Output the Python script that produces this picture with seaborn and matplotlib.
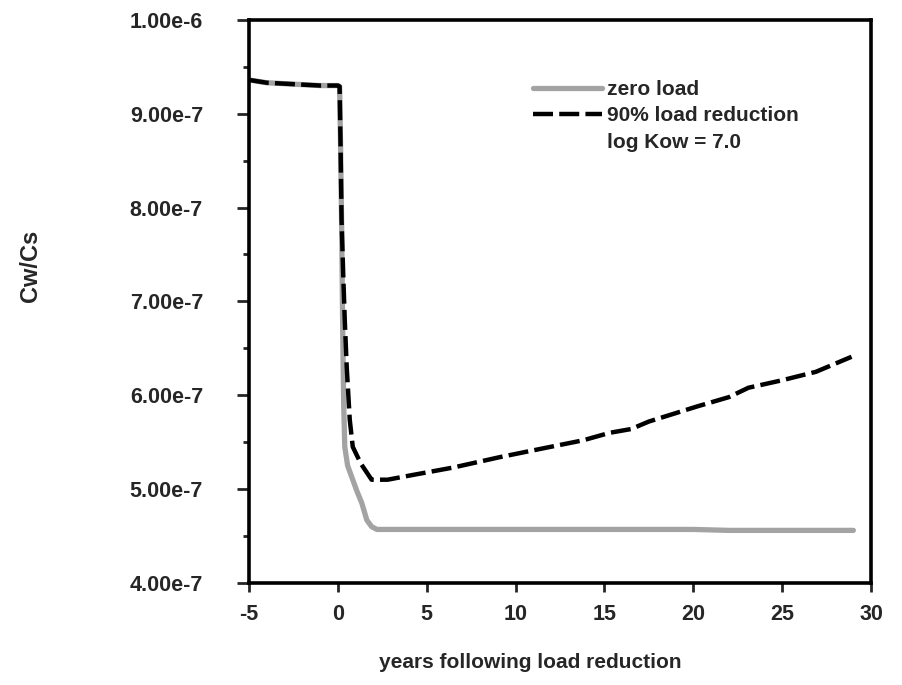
import matplotlib
matplotlib.use('Agg')
import matplotlib.pyplot as plt
import seaborn as sns
from matplotlib.lines import Line2D
from matplotlib.ticker import MultipleLocator, FuncFormatter

# data (Cw/Cs in units of 1e-7)
years_zero = [-5, -4, -3, -2, -1, 0, 0.1, 0.15, 0.21, 0.28, 0.33, 0.39, 0.55, 0.8, 1.07,
              1.35, 1.63, 1.9, 2.2, 3, 5, 8, 10, 12, 15, 18, 20, 22, 25, 27, 29]
cw_zero = [9.36, 9.33, 9.32, 9.31, 9.30, 9.30, 9.29, 8.7, 7.87, 6.6, 5.9, 5.45, 5.25, 5.12, 4.98,
           4.85, 4.67, 4.60, 4.57, 4.57, 4.57, 4.57, 4.57, 4.57, 4.57, 4.57, 4.57, 4.56, 4.56, 4.56, 4.56]

years_90 = [-5, -4, -3, -2, -1, 0, 0.1, 0.15, 0.21, 0.30, 0.39, 0.5, 0.67, 0.84, 1.3, 1.9,
            2.8, 4.2, 6.5, 9.1, 11.7, 13.8, 15.3, 16.5, 17.5, 20.2, 22.0, 23.1, 25.0, 26.9, 28.9]
cw_90 = [9.36, 9.33, 9.32, 9.31, 9.30, 9.30, 9.29, 8.7, 7.87, 7.3, 6.80, 6.3, 5.74, 5.45, 5.27, 5.10,
         5.10, 5.15, 5.23, 5.34, 5.44, 5.52, 5.60, 5.64, 5.72, 5.88, 5.98, 6.08, 6.16, 6.25, 6.41]

labels = ['zero load', '90% load reduction', 'log Kow = 7.0']

sns.set_style('ticks')
plt.rcParams['font.family'] = ['Liberation Sans', 'DejaVu Sans']
plt.rcParams['font.weight'] = 'bold'
plt.rcParams['axes.unicode_minus'] = False

fig = plt.figure(figsize=(9.03, 6.85), dpi=100)
ax = fig.add_axes([0.2757, 0.149, 0.689, 0.822])

sns.lineplot(x=years_zero, y=[v * 1e-7 for v in cw_zero], ax=ax, color='#a3a3a3',
             linewidth=3.8, estimator=None, sort=False)
sns.lineplot(x=years_90, y=[v * 1e-7 for v in cw_90], ax=ax, color='black',
             linewidth=3.2, linestyle=(0, (4.5, 1.4)), estimator=None, sort=False)

ax.set_xlim(-5, 30)
ax.set_ylim(4e-7, 1e-6)
ax.xaxis.set_major_locator(MultipleLocator(5))
ax.yaxis.set_major_locator(MultipleLocator(1e-7))
ax.yaxis.set_minor_locator(MultipleLocator(0.5e-7))
ax.yaxis.set_major_formatter(FuncFormatter(lambda v, p: f'{v:.2e}'.replace('e-0', 'e-')))

for s in ax.spines.values():
    s.set_linewidth(2.6)
    s.set_color('black')
ax.tick_params(axis='y', which='major', direction='out', length=9, width=2, pad=24, labelsize=15.5)
ax.tick_params(axis='y', which='minor', direction='out', length=4, width=2)
ax.tick_params(axis='x', which='major', direction='out', length=6.5, width=2, pad=9, labelsize=15.5)

ax.set_xlabel('years following load reduction', fontsize=15, fontweight='bold')
ax.set_ylabel('Cw/Cs', fontsize=17, fontweight='bold')
ax.xaxis.set_label_coords(0.452, -0.124)
ax.yaxis.set_label_coords(-0.333, 0.563)

handles = [ax.lines[0], ax.lines[1], Line2D([], [], linestyle='none')]
ax.legend(handles, labels, loc='upper left', bbox_to_anchor=(0.457, 0.893), frameon=False,
          borderpad=0, borderaxespad=0, handlelength=3.3, handletextpad=0.25,
          labelspacing=0.35, prop={'size': 15, 'weight': 'bold'})

fig.savefig('out.png', dpi=100)
